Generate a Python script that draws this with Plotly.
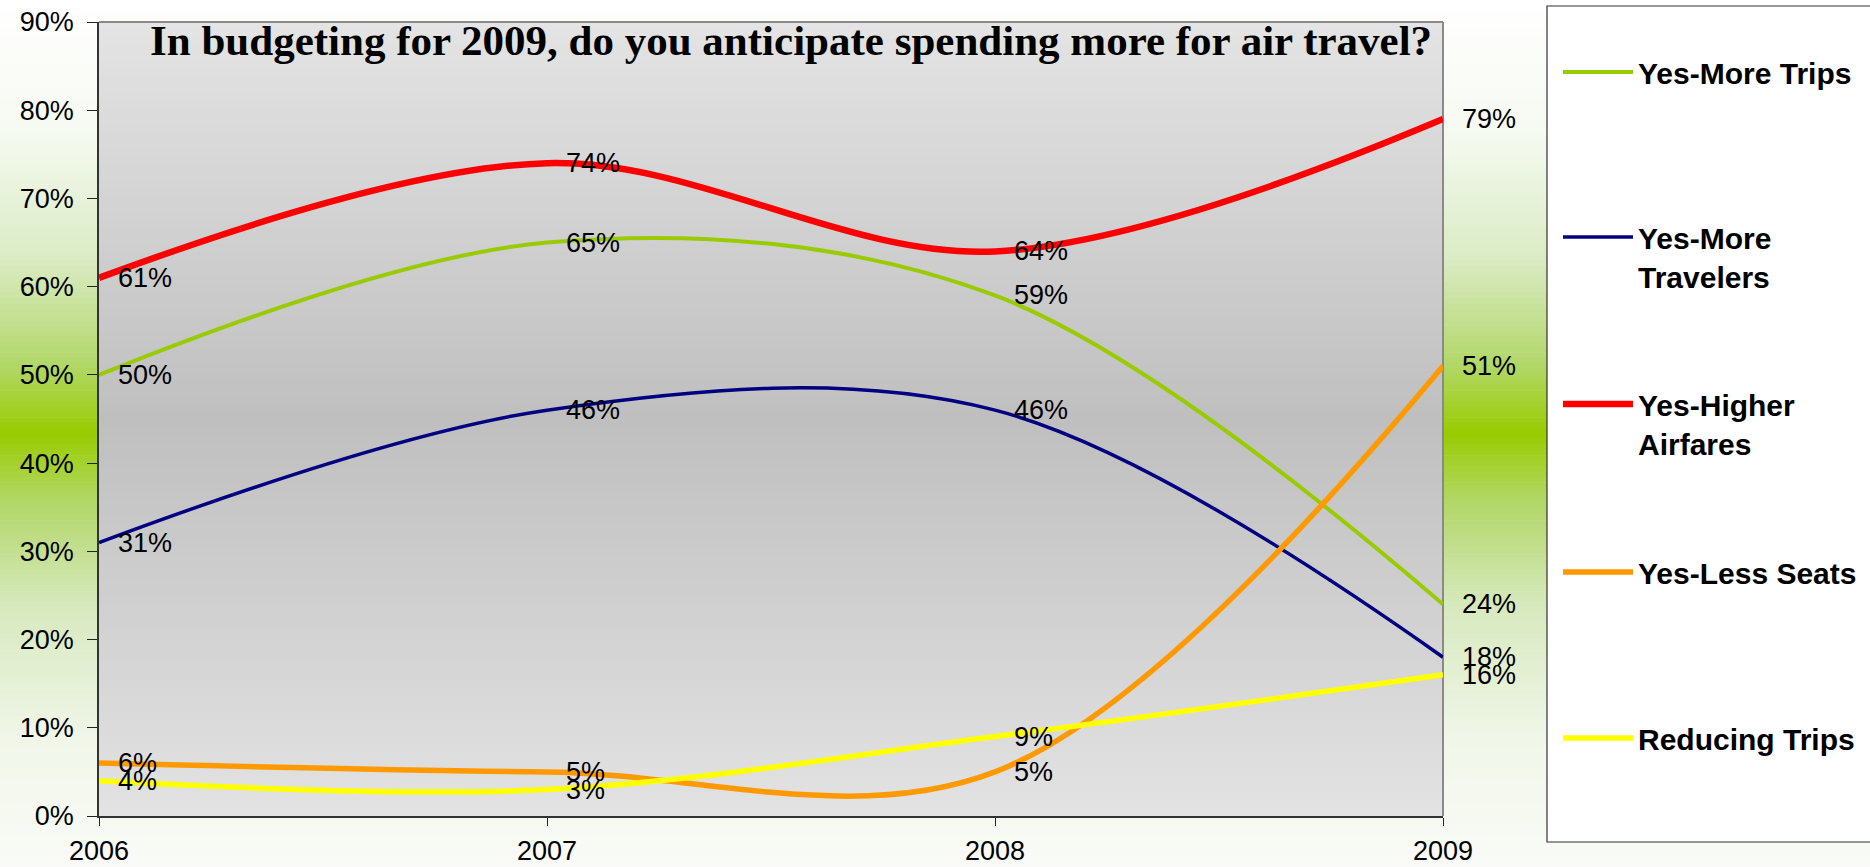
import plotly.graph_objects as go

# ---- survey results (% of respondents) ----
years = [2006, 2007, 2008, 2009]
more_trips = [50, 65, 59, 24]
more_travelers = [31, 46, 46, 18]
higher_airfares = [61, 74, 64, 79]
less_seats = [6, 5, 5, 51]
reducing_trips = [4, 3, 9, 16]

series_names = ["Yes-More Trips", "Yes-More<br>Travelers", "Yes-Higher<br>Airfares",
                "Yes-Less Seats", "Reducing Trips"]
series_values = [more_trips, more_travelers, higher_airfares, less_seats, reducing_trips]
series_colors = ["#99cc00", "#000080", "#ff0000", "#ff9900", "#ffff00"]
series_widths = [4, 3.5, 6.5, 5.5, 5.5]

y_ticks = list(range(0, 100, 10))
y_tick_text = [f"{v}%" for v in y_ticks]
title_text = "In budgeting for 2009, do you anticipate spending more for air travel?"

# ---- page geometry ----
W, H = 1870, 867
L, R, T, B = 99, 427, 22, 51
plot_w = W - L - R
plot_h = H - T - B


def px(x_pix):
    return (x_pix - L) / plot_w


def py(y_pix):
    return (H - B - y_pix) / plot_h


def blend(stops, f):
    for (f0, c0), (f1, c1) in zip(stops, stops[1:]):
        if f0 <= f <= f1:
            t = (f - f0) / (f1 - f0) if f1 > f0 else 0.0
            return "rgb(%d,%d,%d)" % tuple(round(a + (b - a) * t) for a, b in zip(c0, c1))
    return "rgb(%d,%d,%d)" % stops[-1][1]


shapes = []

# page background: white -> green -> white, top to bottom
page_stops = [(0.0, (255, 255, 255)), (0.15, (246, 250, 242)), (0.3, (218, 235, 195)),
              (0.42, (178, 215, 105)), (0.5, (153, 204, 0)), (0.58, (178, 215, 105)),
              (0.7, (215, 233, 190)), (0.85, (240, 246, 232)), (1.0, (250, 251, 248))]
n_page = 160
for i in range(n_page):
    y0 = H * i / n_page
    y1 = H * (i + 1) / n_page + 0.6
    shapes.append(dict(type="rect", xref="paper", yref="paper", layer="below",
                       x0=px(-2), x1=px(W + 2), y0=py(y1), y1=py(y0),
                       fillcolor=blend(page_stops, (i + 0.5) / n_page), line=dict(width=0)))

# plot area: light grey -> darker grey -> light grey
plot_stops = [(0.0, (228, 228, 228)), (0.5, (191, 191, 191)), (1.0, (227, 227, 227))]
n_plot = 100
for i in range(n_plot):
    f0 = i / n_plot
    f1 = min(1.0, (i + 1) / n_plot + 0.004)
    shapes.append(dict(type="rect", xref="paper", yref="paper", layer="below",
                       x0=0, x1=1, y0=1 - f1, y1=1 - f0,
                       fillcolor=blend(plot_stops, (i + 0.5) / n_plot), line=dict(width=0)))

# top and right frame of the plot area
shapes.append(dict(type="line", xref="paper", yref="paper", layer="below",
                   x0=0, x1=1, y0=1, y1=1, line=dict(color="#8a8a8a", width=2)))
shapes.append(dict(type="line", xref="paper", yref="paper", layer="below",
                   x0=1, x1=1, y0=0, y1=1, line=dict(color="#8a8a8a", width=2)))

# legend panel
shapes.append(dict(type="rect", xref="paper", yref="paper", layer="below",
                   x0=px(1547), x1=px(1885), y0=py(842), y1=py(6),
                   fillcolor="white", line=dict(color="#333333", width=1.2)))

legend_ids = ["legend", "legend2", "legend3", "legend4", "legend5"]
legend_tops = [46, 211, 378, 546, 712]   # pixel y of each entry's top edge

fig = go.Figure()
for name, vals, col, lw, lg in zip(series_names, series_values, series_colors,
                                   series_widths, legend_ids):
    fig.add_trace(go.Scatter(
        x=years, y=vals, name=name, legend=lg, mode="lines",
        line=dict(color=col, width=lw, shape="spline", smoothing=1.0),
        hoverinfo="skip", cliponaxis=False))

label_font = dict(family="Liberation Sans, Arial, sans-serif", size=27, color="black")
annotations = []
for vals in series_values:
    for x, v in zip(years, vals):
        annotations.append(dict(x=x, y=v, xref="x", yref="y", text=f"{v}%",
                                showarrow=False, xanchor="left", yanchor="middle",
                                xshift=17, font=label_font))

annotations.append(dict(x=px(791), y=1, xref="paper", yref="paper", text=title_text,
                        showarrow=False, xanchor="center", yanchor="top", yshift=7,
                        font=dict(family="Liberation Serif, Times New Roman, serif",
                                  size=43, color="black", weight="bold")))

tick_font = dict(family="Liberation Sans, Arial, sans-serif", size=27, color="black")
legend_font = dict(family="Liberation Sans, Arial, sans-serif", size=30,
                   color="black", weight="bold")

layout_legends = {}
for lg, top in zip(legend_ids, legend_tops):
    layout_legends[lg] = dict(x=px(1558), y=py(top), xanchor="left", yanchor="top",
                              bgcolor="rgba(0,0,0,0)", borderwidth=0, font=legend_font,
                              itemwidth=70, valign="top")

fig.update_layout(
    width=W, height=H,
    margin=dict(l=L, r=R, t=T, b=B, pad=0, autoexpand=False),
    paper_bgcolor="rgba(0,0,0,0)",
    plot_bgcolor="rgba(0,0,0,0)",
    shapes=shapes,
    annotations=annotations,
    showlegend=True,
    xaxis=dict(range=[2006, 2009], tickvals=years, ticktext=[str(y) for y in years],
               ticks="outside", ticklen=8, tickcolor="#222222", tickwidth=1,
               showline=True, linecolor="#333333", linewidth=1.5,
               showgrid=False, zeroline=False, tickfont=tick_font,
               ticklabelstandoff=2, automargin=False),
    yaxis=dict(range=[0, 90], tickvals=y_ticks, ticktext=y_tick_text,
               ticks="outside", ticklen=10, tickcolor="#222222", tickwidth=1,
               showline=True, linecolor="#333333", linewidth=1.5,
               showgrid=False, zeroline=False, tickfont=tick_font,
               ticklabelstandoff=8, automargin=False),
    # companion axes that draw the inner half of each tick mark
    xaxis2=dict(range=[2006, 2009], tickvals=years, overlaying="x", anchor="y",
                ticks="inside", ticklen=8, tickcolor="#222222", tickwidth=1,
                showticklabels=False, showgrid=False, zeroline=False, showline=False,
                automargin=False),
    yaxis2=dict(range=[0, 90], tickvals=y_ticks, overlaying="y", anchor="x",
                ticks="inside", ticklen=9, tickcolor="#222222", tickwidth=1,
                showticklabels=False, showgrid=False, zeroline=False, showline=False,
                automargin=False),
    **layout_legends,
)

fig.write_html("out.html")
